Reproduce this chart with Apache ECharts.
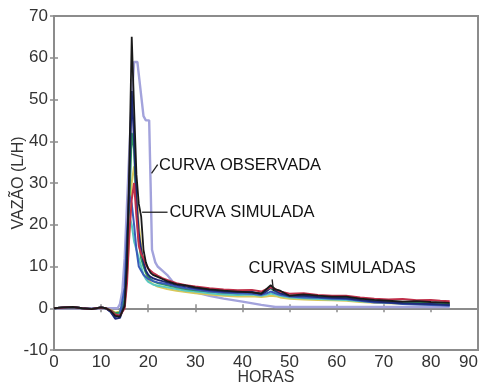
<!DOCTYPE html>
<html>
<head>
<meta charset="utf-8">
<script src="https://cdn.jsdelivr.net/npm/echarts@6/dist/echarts.min.js"></script>
<style>
html,body{margin:0;padding:0;background:#fff;}
#chart{width:484px;height:383px;}
</style>
</head>
<body>
<div id="chart"></div>
<script>
// Hours sampled for the simulated curves
var hours = [0,2,4,6,8,10,11,12,13,14,15,15.5,16,16.5,17,17.5,18,18.5,19,19.5,20,20.5,21,22,23,24,26,28,30,33,36,39,42,44,45,46,47,48,50,53,56,59,62,65,68,71,74,77,80,82,84];
// Main simulated curve (black, "CURVA SIMULADA")
var simBlack = [0,0.2,0.3,0,-0.2,0.2,0,-0.6,-1.8,-2,0.5,10,35,65,48,32,25,22,14,11,9.5,8.5,8,7.5,7,6.5,5.8,5.5,5,4.5,4.2,4,3.8,3.5,4.5,5.5,4.5,4.2,3,3.3,3,2.8,2.8,2.3,2,1.8,1.6,1.7,1.5,1.4,1.3];
// Ensemble of simulated curves ("CURVAS SIMULADAS")
var simRed = [0,0.2,0.3,0,-0.2,0.2,0,-0.5,-1.5,-1.8,0,6,18,26,30,22,15,13,12,10.5,9.5,9,8.5,7.8,7.2,6.8,6,5.5,5.2,4.8,4.5,4.3,4.4,4,4.5,5,4.6,4,3.5,3.6,3.2,3,3,2.6,2.3,2.1,2.2,1.9,2,1.8,1.7];
var simBlue = [0,0.2,0.3,0,-0.2,0.2,0,-0.8,-2.2,-1.5,5,18,27,25,20,14,10,9,8,7.5,7,6.8,6.5,6.2,6,5.8,5.2,4.8,4.5,4,3.8,3.6,3.5,3.2,3.5,4,3.6,3.2,2.8,2.6,2.5,2.3,2.2,1.8,1.4,1.3,1,0.9,0.8,0.7,0.6];
var simGreen = [0,0.2,0.3,0,-0.2,0.2,0,-0.5,-1.2,-1,2,12,25,42,38,24,16,12,10,8.5,7.5,7,6.5,6,5.8,5.5,5,4.6,4.3,4,3.7,3.6,3.8,3.6,4,4.8,4,3.5,3,2.9,2.7,2.5,2.6,2,1.8,1.6,1.5,1.3,1.2,1.1,1];
var simTeal = [0,0.2,0.3,0,-0.2,0.2,0,-0.6,-1.5,-1,3,15,22,20,16,14,12,10,8,7,6.3,6,5.7,5.4,5.2,5,4.6,4.2,4,3.6,3.3,3.2,3.3,3,3.2,3.5,3.3,3,2.6,2.4,2.2,2.1,2,1.7,1.5,1.3,1.2,1.1,1,1,0.9];
var simYellow = [0,0.2,0.3,0,-0.2,0.2,0,-0.4,-1,-0.8,1,8,18,30,34,28,20,15,11,8.5,7,6.2,5.8,5.2,4.9,4.6,4.2,3.9,3.6,3.3,3,2.8,2.9,2.7,2.8,3,2.9,2.6,2.3,2.1,2,1.9,1.8,1.5,1.3,1.2,1.1,1,0.9,0.9,0.8];
var simNavy = [0,0.2,0.3,0,-0.2,0.2,0,-0.8,-2.5,-2.3,1,14,30,52,40,26,18,14,11,9,8,7.5,7.2,6.8,6.5,6.2,5.6,5.2,4.8,4.3,4,3.9,3.9,3.4,4,5,4.2,3.6,3,3,2.7,2.5,2.4,2,1.6,1.4,1.2,1.1,1,0.9,0.8];
// Observed curve ("CURVA OBSERVADA")
var hoursObs = [0,12,13,13.5,14,14.5,15,15.5,16,16.5,17,17.7,17.9,19,19.5,20.2,20.5,20.8,21.5,22,23,24,26,28,30,33,36,40,44,47,50,60,70,84];
var observed = [0,0,0,0,1,4,12,25,38,50,59,59,57,46,45,45,30,14,11,10,9,8,5.2,4.5,3.8,3,2.3,1.6,0.8,0.3,0.3,0.3,0.3,0.3];
// Axis ticks
var xTicks = [0,10,20,30,40,50,60,70,80,90];
var yTicks = [-10,0,10,20,30,40,50,60,70];
// Annotations (text, anchor in data units)
var labels = [
  {text:'CURVA OBSERVADA', at:[22.3,34.2], line:[[20.7,32.3],[22.0,34.4]]},
  {text:'CURVA SIMULADA', at:[24.5,23], line:[[18.7,23],[24.1,23]]},
  {text:'CURVAS SIMULADAS', at:[41.3,9.6], line:[[46.3,6.9],[46.6,4.1]]}
];

function pair(xs, ys){ return xs.map(function(x,i){ return [x, ys[i]]; }); }

var chart = echarts.init(document.getElementById('chart'));
var FONT = 'Liberation Sans, Arial, sans-serif';
var axisGray = '#8c8c8c';
var xMin = xTicks[0], xMax = xTicks[xTicks.length-1];
var yMin = yTicks[0], yMax = yTicks[yTicks.length-1];

function lineSeries(name, data, color, width, z){
  return {name:name, type:'line', data:data, showSymbol:false, symbol:'none',
    lineStyle:{color:color, width:width}, z:z, animation:false, silent:true};
}

var option = {
  animation:false,
  grid:{left:54, right:6, top:16, bottom:33, containLabel:false, outerBoundsMode:'none',
    show:true, borderColor:axisGray, borderWidth:2},
  xAxis:[{
    type:'value', min:xMin, max:xMax, interval:10, position:'bottom',
    name:'HORAS', nameLocation:'middle', nameGap:20, nameMoveOverlap:false,
    nameTextStyle:{fontFamily:FONT, fontSize:16, color:'#333'},
    axisLine:{show:true, lineStyle:{color:axisGray, width:2}},
    axisTick:{show:true, inside:true, length:4, lineStyle:{color:axisGray, width:1.5}},
    axisLabel:{fontFamily:FONT, fontSize:17, color:'#333', margin:4, alignMaxLabel:'right'},
    splitLine:{show:false}
  },{
    type:'value', min:xMin, max:xMax, interval:10, position:'top',
    axisLine:{show:true, lineStyle:{color:axisGray, width:2}},
    axisTick:{show:true, inside:true, length:4, lineStyle:{color:axisGray, width:1.5}},
    axisLabel:{show:false}, splitLine:{show:false}
  }],
  yAxis:[{
    type:'value', min:yMin, max:yMax, interval:10, position:'left',
    name:'VAZÃO (L/H)', nameLocation:'middle', nameGap:27, nameRotate:90, nameMoveOverlap:false,
    nameTextStyle:{fontFamily:FONT, fontSize:16, color:'#333'},
    axisLine:{show:true, lineStyle:{color:axisGray, width:2}},
    axisTick:{show:true, inside:true, length:4, lineStyle:{color:axisGray, width:1.5}},
    axisLabel:{fontFamily:FONT, fontSize:17, color:'#333', margin:6},
    splitLine:{show:false}
  },{
    type:'value', min:yMin, max:yMax, interval:10, position:'right',
    axisLine:{show:true, lineStyle:{color:axisGray, width:2}},
    axisTick:{show:true, inside:true, length:4, lineStyle:{color:axisGray, width:1.5}},
    axisLabel:{show:false}, splitLine:{show:false}
  }],
  series:[
    lineSeries('Observada', pair(hoursObs, observed), '#a3a3dc', 2.4, 2),
    lineSeries('Sim amarela', pair(hours, simYellow), '#d8c85a', 2, 3),
    lineSeries('Sim ciano', pair(hours, simTeal), '#58c8c0', 2, 3),
    lineSeries('Sim verde', pair(hours, simGreen), '#2e9a58', 2, 4),
    lineSeries('Sim azul', pair(hours, simBlue), '#3a5cb8', 2, 4),
    lineSeries('Sim marinho', pair(hours, simNavy), '#1e2a78', 2, 5),
    lineSeries('Sim vermelha', pair(hours, simRed), '#c0304a', 2, 5),
    lineSeries('Simulada', pair(hours, simBlack), '#1a1a1a', 1.8, 6)
  ]
};
chart.setOption(option);

// Annotation texts and leader lines, placed through the chart's own scales
var g = [];
labels.forEach(function(l){
  var p = chart.convertToPixel({gridIndex:0}, l.at);
  g.push({type:'text', x:p[0], y:p[1], z:10,
    style:{text:l.text, fontFamily:FONT, fontSize:16.5, fill:'#111', textVerticalAlign:'middle', textAlign:'left'}});
  var a = chart.convertToPixel({gridIndex:0}, l.line[0]);
  var b = chart.convertToPixel({gridIndex:0}, l.line[1]);
  g.push({type:'line', z:10, shape:{x1:a[0], y1:a[1], x2:b[0], y2:b[1]}, style:{stroke:'#222', lineWidth:1.3}});
});
chart.setOption({graphic:g});
</script>
</body>
</html>
